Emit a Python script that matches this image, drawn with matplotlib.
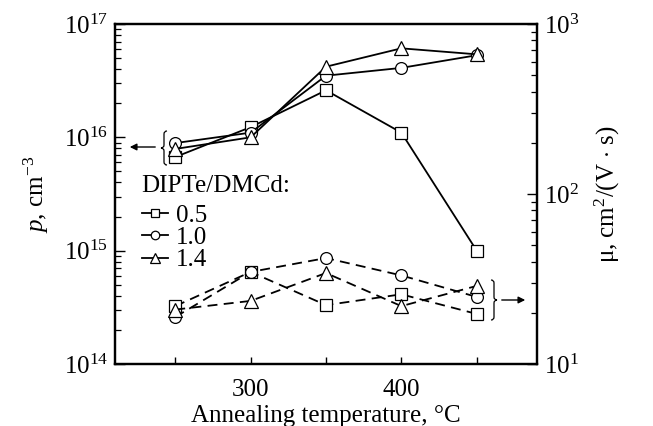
import matplotlib
matplotlib.use("Agg")
import matplotlib.pyplot as plt
from matplotlib.path import Path
from matplotlib.patches import PathPatch
from matplotlib.transforms import IdentityTransform
from matplotlib.ticker import LogLocator, FixedLocator, NullFormatter, FixedFormatter, LogFormatterMathtext

plt.rcParams['font.family'] = ['Liberation Serif', 'DejaVu Serif']
plt.rcParams['mathtext.fontset'] = 'custom'
plt.rcParams['mathtext.rm'] = 'Liberation Serif'
plt.rcParams['mathtext.it'] = 'Liberation Serif:italic'
plt.rcParams['mathtext.bf'] = 'Liberation Serif:bold'

temps = [250, 300, 350, 400, 450]
ratios = ['0.5', '1.0', '1.4']
markers = ['s', 'o', '^']
p_vals = {
    '0.5': [6.7e15, 1.23e16, 2.6e16, 1.1e16, 1.0e15],
    '1.0': [8.9e15, 1.1e16, 3.5e16, 4.1e16, 5.3e16],
    '1.4': [7.9e15, 1.0e16, 4.2e16, 6.1e16, 5.4e16],
}
mu_vals = {
    '0.5': [21.9, 34.8, 22.2, 25.7, 19.7],
    '1.0': [18.9, 34.8, 42.0, 33.2, 24.8],
    '1.4': [20.9, 23.5, 34.3, 21.9, 28.8],
}
msize = {'s': 8.5, 'o': 8.5, '^': 9.5}

W, H = 653, 426
fig = plt.figure(figsize=(W/100, H/100), dpi=100)
ax = fig.add_axes([115/W, 1-364/H, (537-115)/W, (364-24)/H])
ax2 = ax.twinx()

handles = []
for r, m in zip(ratios, markers):
    h, = ax.plot(temps, p_vals[r], '-', color='black', lw=1.3, marker=m,
                 ms=msize[m], mfc='white', mec='black', mew=0.9, label=r)
    handles.append(h)
    ax2.plot(temps, mu_vals[r], color='black', lw=1.3, ls=(0, (5.5, 3.5)),
             marker=m, ms=msize[m], mfc='white', mec='black', mew=0.9)

ax.set_yscale('log')
ax2.set_yscale('log')
ax.set_ylim(1e14, 1e17)
ax2.set_ylim(10, 1000)
ax.set_xlim(210, 490)

fs = 18
ax.xaxis.set_major_locator(FixedLocator([250, 300, 350, 400, 450]))
ax.xaxis.set_major_formatter(FixedFormatter(['', '300', '', '400', '']))
ax.tick_params(axis='x', direction='in', length=5, width=1, labelsize=fs, pad=11, top=False)

for a in (ax, ax2):
    a.yaxis.set_major_locator(LogLocator(base=10, numticks=10))
    a.yaxis.set_minor_locator(LogLocator(base=10, subs=range(2, 10), numticks=10))
    a.yaxis.set_minor_formatter(NullFormatter())
    a.yaxis.set_major_formatter(LogFormatterMathtext())
    a.tick_params(axis='y', which='major', direction='in', length=7, width=1, labelsize=fs, pad=5)
    a.tick_params(axis='y', which='minor', direction='in', length=4, width=0.9)
ax.tick_params(axis='y', right=False, which='both')
ax2.tick_params(axis='y', left=False, which='both')

for a in (ax, ax2):
    for s in a.spines.values():
        s.set_linewidth(1.6)

ax.set_xlabel('Annealing temperature, °C', fontsize=fs, labelpad=3)
ax.set_ylabel(r'$p$, cm$^{-3}$', fontsize=fs, labelpad=9)
ax2.set_ylabel(r'μ, cm$^{2}$/(V $\cdot$ s)', fontsize=fs, labelpad=10)

fig.text(141/W, 1-186/H, 'DIPTe/DMCd:', fontsize=fs, ha='left', va='center')
leg = ax.legend(handles=handles, loc='upper left',
                bbox_to_anchor=(142/W, 1-204/H), bbox_transform=fig.transFigure,
                frameon=False, fontsize=fs, handlelength=1.05,
                handletextpad=0.3, labelspacing=0.0, borderpad=0, borderaxespad=0,
                markerscale=0.72)


def brace(xc, ytop, ybot, direction):
    # direction = -1 for '{' (tip to the left), +1 for '}' (tip to the right)
    yt = H - ytop
    yb = H - ybot
    ym = (yt + yb) / 2
    d = 3.0 * direction
    c = 3.0
    verts = [
        (xc - d, yt), (xc, yt), (xc, yt - c),
        (xc, ym + c),
        (xc, ym), (xc + d, ym),
        (xc, ym), (xc, ym - c),
        (xc, yb + c),
        (xc, yb), (xc - d, yb),
    ]
    codes = [Path.MOVETO, Path.CURVE3, Path.CURVE3,
             Path.LINETO,
             Path.CURVE3, Path.CURVE3,
             Path.CURVE3, Path.CURVE3,
             Path.LINETO,
             Path.CURVE3, Path.CURVE3]
    fig.add_artist(PathPatch(Path(verts, codes), transform=IdentityTransform(),
                             fill=False, lw=0.9, color='black'))


brace(164, 131, 165, -1)
ax.annotate('', xy=(127/W, 1-147/H), xytext=(158/W, 1-147/H),
            xycoords='figure fraction', textcoords='figure fraction',
            arrowprops=dict(arrowstyle='-|>', color='black', lw=1.0, mutation_scale=10))
brace(494, 280, 320, 1)
ax.annotate('', xy=(528/W, 1-300/H), xytext=(499/W, 1-300/H),
            xycoords='figure fraction', textcoords='figure fraction',
            arrowprops=dict(arrowstyle='-|>', color='black', lw=1.0, mutation_scale=10))

fig.savefig('out.png', dpi=100)
